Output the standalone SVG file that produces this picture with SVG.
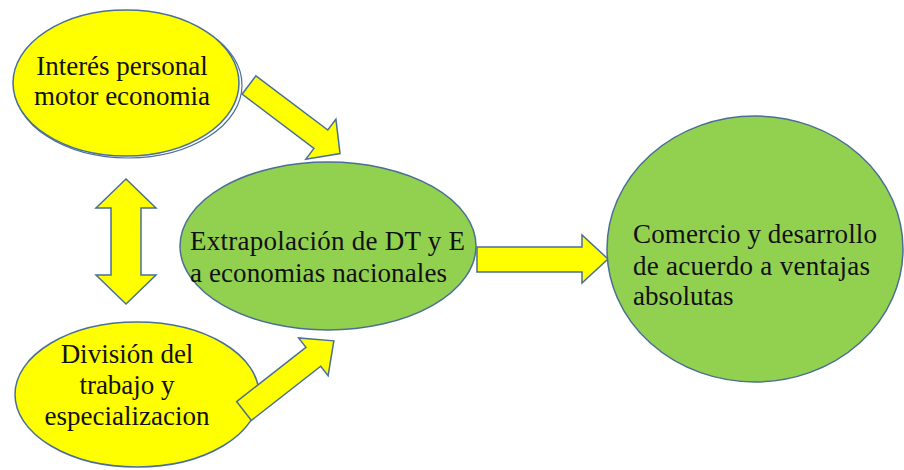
<svg xmlns="http://www.w3.org/2000/svg" width="904" height="470" viewBox="0 0 904 470">
  <style>
    .yel { fill: #FFFF00; stroke: #4a6f96; stroke-width: 1.5; }
    .grn { fill: #92D050; stroke: #4a6f96; stroke-width: 1.5; }
    .ring { fill: none; stroke: #4a6f96; stroke-width: 1.2; }
    .arr { fill: #FFFF00; stroke: #4a6f96; stroke-width: 1.5; stroke-linejoin: miter; }
    text { font-family: "Liberation Serif", "Times New Roman", serif; font-size: 27px; fill: #111; }
    .c { text-anchor: middle; }
  </style>
  <rect width="904" height="470" fill="#ffffff"/>

  <g id="node-division">
    <ellipse class="yel" cx="137" cy="394.5" rx="122" ry="72.5"/>
    <text class="c" x="127" y="363">División del</text>
    <text class="c" x="127" y="394">trabajo y</text>
    <text class="c" x="127" y="425">especializacion</text>
  </g>

  <g id="connectors">
    <polygon class="arr" transform="translate(249,85) rotate(37)" points="0,-11.5 90,-11.5 90,-25 114,0 90,25 90,11.5 0,11.5"/>
    <polygon class="arr" transform="translate(244,411) rotate(-38)" points="0,-12 88,-12 88,-24 114,0 88,24 88,12 0,12"/>
    <polygon class="arr" points="477,247 582,247 582,235 608,259 582,283 582,272 477,272"/>
    <polygon class="arr" points="126,179 156,208 141,208 141,275 156,275 126,304 96,275 111,275 111,208 96,208"/>
  </g>

  <g id="node-interes">
    <ellipse class="ring" cx="128" cy="85" rx="114" ry="73"/>
    <ellipse class="yel" cx="126" cy="83" rx="113" ry="73"/>
    <text class="c" x="122" y="75">Interés personal</text>
    <text class="c" x="122" y="105">motor economia</text>
  </g>

  <g id="node-extrapolacion">
    <ellipse class="grn" cx="328" cy="246" rx="148" ry="84"/>
    <text x="190" y="250" textLength="275" lengthAdjust="spacing">Extrapolación de DT y E</text>
    <text x="190" y="282" textLength="257" lengthAdjust="spacing">a economias nacionales</text>
  </g>

  <g id="node-comercio">
    <ellipse class="grn" cx="755" cy="249" rx="148" ry="133"/>
    <text x="633" y="243" textLength="244" lengthAdjust="spacing">Comercio y desarrollo</text>
    <text x="633" y="275" textLength="237" lengthAdjust="spacing">de acuerdo a ventajas</text>
    <text x="633" y="305">absolutas</text>
  </g>
</svg>
